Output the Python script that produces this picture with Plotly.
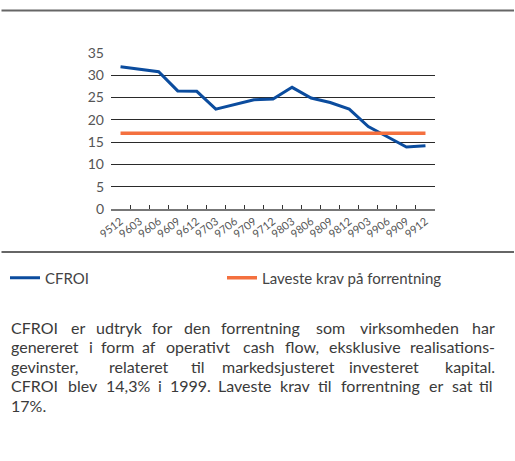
import plotly.graph_objects as go

# ---- data ----
quarters = ["9512", "9603", "9606", "9609", "9612", "9703", "9706", "9709", "9712",
            "9803", "9806", "9809", "9812", "9903", "9906", "9909", "9912"]
cfroi = [31.9, 31.4, 30.8, 26.5, 26.4, 22.4, 23.4, 24.5, 24.7,
         27.3, 24.9, 23.9, 22.4, 18.5, 16.2, 13.9, 14.2]
min_return = [17] * len(quarters)
y_ticks = [0, 5, 10, 15, 20, 25, 30, 35]

series_names = ["CFROI", "Laveste krav på forrentning"]

# ---- page geometry (paper == whole page, plot placed by axis domains) ----
W, H = 515, 461
PLOT_L, PLOT_R, PLOT_T, PLOT_B = 111, 435, 53, 209


def px(x):
    return x / W


def py(y):
    return 1 - y / H


BLUE = "#0B4C9E"
ORANGE = "#F4703F"
TXT = "#3a3a3a"
FONT = "Lato"

fig = go.Figure()
fig.add_trace(go.Scatter(x=quarters, y=cfroi, mode="lines", name=series_names[0],
                         line=dict(color=BLUE, width=3), legend="legend"))
fig.add_trace(go.Scatter(x=quarters, y=min_return, mode="lines", name=series_names[1],
                         line=dict(color=ORANGE, width=3.5), legend="legend2"))

leg_common = dict(orientation="h", xanchor="left", yanchor="middle",
                  font=dict(size=15, color="#444", family=FONT),
                  bgcolor="rgba(0,0,0,0)")
fig.update_layout(
    width=W, height=H,
    margin=dict(l=0, r=0, t=0, b=0, pad=0),
    paper_bgcolor="white", plot_bgcolor="white",
    font=dict(family=FONT, color="#555", size=13),
    showlegend=True,
    legend=dict(x=px(5), y=py(278), **leg_common),
    legend2=dict(x=px(222), y=py(278), **leg_common),
)
fig.update_xaxes(type="category", range=[-0.5, len(quarters) - 0.5],
                 domain=[px(PLOT_L), px(PLOT_R)], automargin=False,
                 showline=True, linecolor="#777", linewidth=1.5,
                 ticks="inside", tickson="boundaries", ticklen=4, tickcolor="#333",
                 tickangle=-38, tickfont=dict(size=11, color="#555", family=FONT),
                 showgrid=False, zeroline=False)
fig.update_yaxes(range=[0, 35], tickvals=y_ticks, domain=[py(PLOT_B), py(PLOT_T)],
                 automargin=False,
                 showgrid=True, gridcolor="#2a2a2a",
                 gridwidth=1, zeroline=False, showline=False, ticks="",
                 ticklabelstandoff=6, tickfont=dict(size=14, color="#555", family=FONT))

# horizontal rules across the full page (drawn as head-less annotation arrows)
for yy in (10.5, 252):
    fig.add_annotation(x=1, y=py(yy), xref="paper", yref="paper",
                       ax=-W, ay=0, axref="pixel", ayref="pixel",
                       text=" ", font=dict(size=1), showarrow=True, arrowhead=0,
                       arrowwidth=2, arrowcolor="#666", standoff=0, startstandoff=0)

# ---- paragraph text (justified: each word placed on its line) ----
paragraph = [
    (327, [("CFROI", 10, "left"), ("er", 78, "center"), ("udtryk", 119, "center"),
           ("for", 162, "center"), ("den", 197, "center"), ("forrentning", 260, "center"),
           ("som", 330, "center"), ("virksomheden", 409, "center"), ("har", 496, "right")]),
    (346.5, [("genereret", 10, "left"), ("i", 91, "center"), ("form", 117, "center"),
             ("af", 149, "center"), ("operativt", 198, "center"), ("cash", 258, "center"),
             ("flow,", 302, "center"), ("eksklusive", 365, "center"),
             ("realisations-", 496, "right")]),
    (366, [("gevinster,", 10, "left"), ("relateret", 139, "center"), ("til", 198, "center"),
           ("markedsjusteret", 278, "center"), ("investeret", 384, "center"),
           ("kapital.", 496, "right")]),
    (385.5, [("CFROI", 10, "left"), ("blev", 83, "center"), ("14,3%", 128, "center"),
             ("i", 160, "center"), ("1999.", 190, "center"), ("Laveste", 245, "center"),
             ("krav", 295, "center"), ("til", 325, "center"), ("forrentning", 380, "center"),
             ("er", 436, "center"), ("sat", 462, "center"), ("til", 494, "right")]),
    (405, [("17%.", 10, "left")]),
]

for yy, words in paragraph:
    for w, xx, anc in words:
        fig.add_annotation(text=w, xref="paper", yref="paper", x=px(xx), y=py(yy),
                           xanchor=anc, yanchor="middle", showarrow=False, borderpad=0,
                           font=dict(size=16, color=TXT, family=FONT))

fig.write_html("out.html", config={"displayModeBar": False},
               post_script="document.body.style.margin='0';document.body.style.overflow='hidden';")
